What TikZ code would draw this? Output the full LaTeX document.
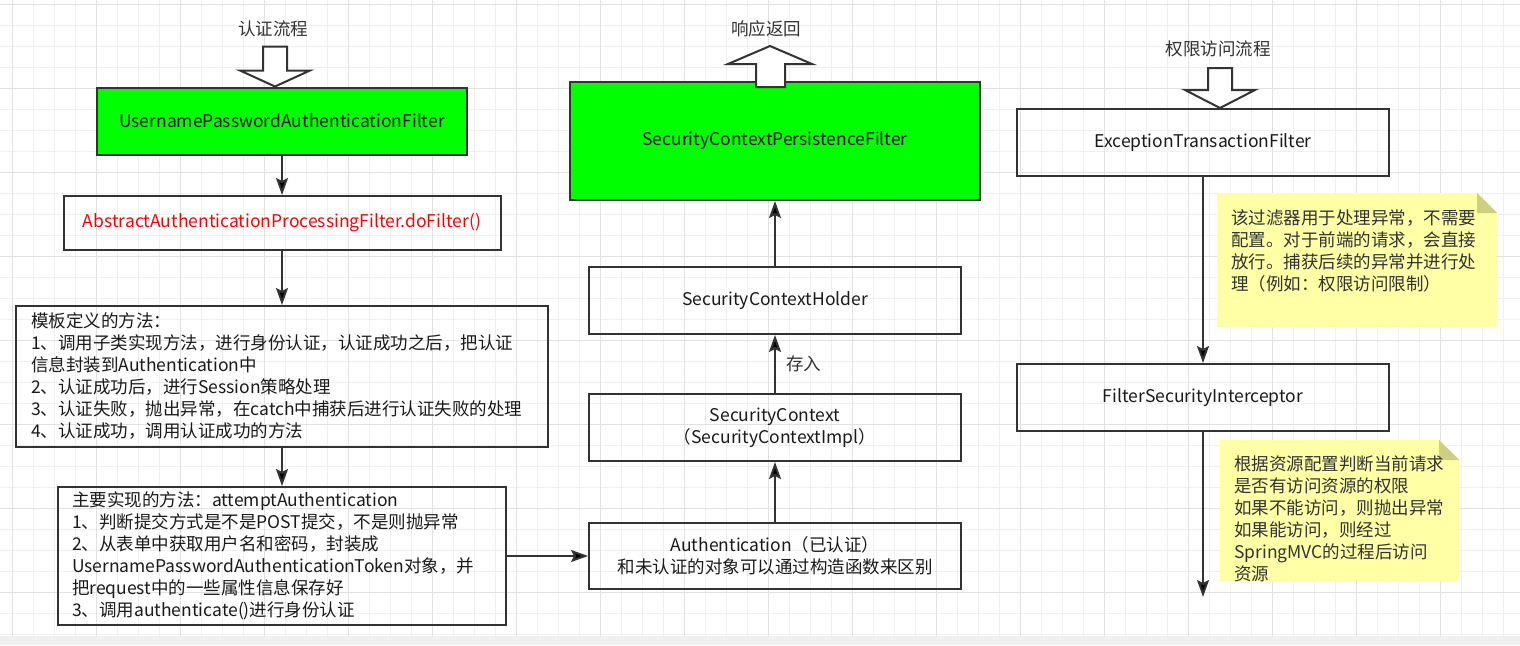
\documentclass[tikz,border=0pt]{standalone}
\usepackage{fontspec}
\setmainfont{Noto Sans CJK SC}
\usetikzlibrary{arrows.meta,positioning}

\definecolor{boxgreen}{HTML}{00FF00}
\definecolor{linegray}{HTML}{333333}
\definecolor{boxtext}{HTML}{1A1A1A}
\definecolor{capgray}{HTML}{333333}
\definecolor{notefill}{HTML}{FFFFA6}
\definecolor{notefold}{HTML}{CFCF80}
\definecolor{gridminor}{HTML}{F0F0F0}
\definecolor{gridmajor}{HTML}{E2E2E2}
\definecolor{barbg}{HTML}{F0F0F0}

\tikzset{
	box/.style={draw=linegray,line width=2pt,text=boxtext,inner sep=0pt},
	greenbox/.style={box,fill=boxgreen},
	textbox/.style={box,align=left},
	flow/.style={draw=linegray,line width=2pt,-{Stealth[length=17pt,width=12pt,inset=3pt]}},
	hollow/.style={draw=linegray,fill=white,line width=2pt},
	caption/.style={text=capgray},
	notetext/.style={anchor=north west,align=left,inner sep=0pt,text=capgray},
}

\begin{document}
\begin{tikzpicture}[x=1pt,y=-1pt,font=\fontsize{17.5}{22}\selectfont]
	\useasboundingbox (0,0) rectangle (1520,645);
	\fill[white] (0,0) rectangle (1520,645);
	\foreach \i in {0,...,71}
		\draw[gridminor,line width=1pt] ({12.7+21*\i},0) -- ({12.7+21*\i},636);
	\foreach \j in {0,...,30}
		\draw[gridminor,line width=1pt] (0,{4+21*\j}) -- (1520,{4+21*\j});
	\foreach \i in {0,...,17}
		\draw[gridmajor,line width=1pt] ({12.7+84*\i},0) -- ({12.7+84*\i},636);
	\foreach \j in {0,...,7}
		\draw[gridmajor,line width=1pt] (0,{4+84*\j}) -- (1520,{4+84*\j});
	\fill[barbg] (0,636) rectangle (1520,645);

	\fill[notefill] (1217,193) -- (1477,193) -- (1497,213) -- (1497,327) -- (1217,327) -- cycle;
	\fill[notefold] (1477,193) -- (1477,213) -- (1497,213) -- cycle;
	\fill[notefill] (1220,440) -- (1439,440) -- (1459,460) -- (1459,581) -- (1220,581) -- cycle;
	\fill[notefold] (1439,440) -- (1439,460) -- (1459,460) -- cycle;

	\node[caption] (authtitle) at (273,29) {认证流程};
	\node[greenbox,minimum width=370pt,minimum height=67pt] (upaf) at (282,121) {UsernamePasswordAuthenticationFilter};
	\node[box,minimum width=437pt,minimum height=54pt,text=red] (aapf) [below=39.5pt of upaf] {AbstractAuthenticationProcessingFilter.doFilter()};
	\node[textbox,text width=502pt,inner xsep=15pt,minimum height=141pt] (tmpl) [below=54pt of aapf] {模板定义的方法：\\1、调用子类实现方法，进行身份认证，认证成功之后，把认证\\信息封装到Authentication中\\2、认证成功后，进行Session策略处理\\3、认证失败，抛出异常，在catch中捕获后进行认证失败的处理\\4、认证成功，调用认证成功的方法};
	\node[textbox,text width=420pt,inner xsep=14pt,minimum height=138pt] (attempt) [below=38pt of tmpl] {主要实现的方法：attemptAuthentication\\1、判断提交方式是不是POST提交，不是则抛异常\\2、从表单中获取用户名和密码，封装成\\UsernamePasswordAuthenticationToken对象，并\\把request中的一些属性信息保存好\\3、调用authenticate()进行身份认证};

	\node[caption] (resptitle) at (766,29) {响应返回};
	\node[greenbox,minimum width=410pt,minimum height=118pt] (scpf) at (775,141) {SecurityContextPersistenceFilter};
	\node[box,minimum width=372pt,minimum height=67pt] (sch) [below=65pt of scpf] {SecurityContextHolder};
	\node[box,minimum width=372pt,minimum height=67pt,align=center] (sc) [below=58pt of sch] {SecurityContext\\（SecurityContextImpl）};
	\node[box,minimum width=372pt,minimum height=66pt,align=center] (auth) [below=60pt of sc] {Authentication（已认证）\\和未认证的对象可以通过构造函数来区别};

	\node[caption] (permtitle) at (1218,49) {权限访问流程};
	\node[box,minimum width=372pt,minimum height=67pt] (etf) at (1203,142.5) {ExceptionTransactionFilter};
	\node[box,minimum width=372pt,minimum height=67pt] (fsi) [below=186pt of etf] {FilterSecurityInterceptor};
	\coordinate[below=165pt of fsi] (out);

	\node[notetext] (etfnote) at (1231,210) {该过滤器用于处理异常，不需要\\配置。对于前端的请求，会直接\\放行。捕获后续的异常并进行处\\理（例如：权限访问限制）};
	\node[notetext] (fsinote) at (1234,456) {根据资源配置判断当前请求\\是否有访问资源的权限\\如果不能访问，则抛出异常\\如果能访问，则经过\\SpringMVC的过程后访问\\资源};

	\draw[hollow] ([xshift=-7pt]upaf.north) -- ++(35,-16) -- ++(-23,0) -- ++(0,-24) -- ++(-24,0) -- ++(0,24) -- ++(-23,0) -- cycle;
	\draw[hollow] ([xshift=-5pt,yshift=35pt]scpf.north) -- ++(42,18) -- ++(-27,0) -- ++(0,23) -- ++(-29,0) -- ++(0,-23) -- ++(-28,0) -- cycle;
	\draw[hollow] ([xshift=17pt]etf.north) -- ++(35,-18) -- ++(-23,0) -- ++(0,-22) -- ++(-24,0) -- ++(0,22) -- ++(-23,0) -- cycle;

	\path[flow]
		(upaf) edge (aapf)
		(aapf) edge (tmpl)
		(tmpl) edge (attempt)
		(attempt) edge (auth)
		(auth) edge (sc)
		(sc) edge node[right=8pt,inner sep=2pt,text=capgray] {存入} (sch)
		(sch) edge (scpf)
		(etf) edge (fsi)
		(fsi) edge (out);
\end{tikzpicture}
\end{document}
